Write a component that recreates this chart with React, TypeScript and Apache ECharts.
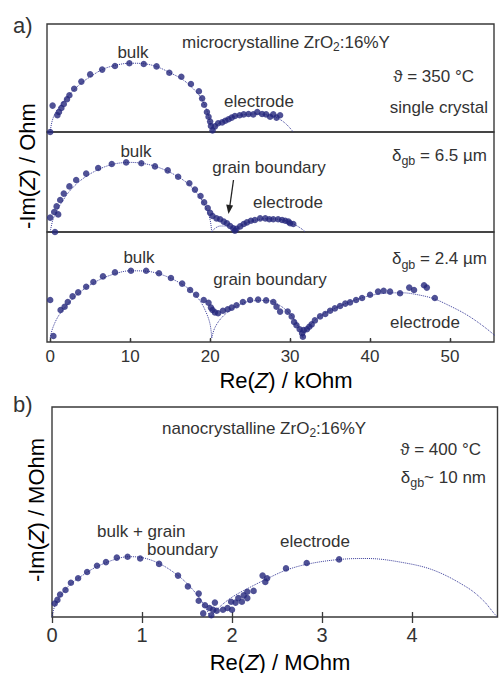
import React, { useEffect, useRef } from "react";
import * as echarts from "echarts";

// ---------- data (kOhm for panel a, MOhm for panel b) ----------
const xTicksA = [0, 10, 20, 30, 40, 50];
const xTicksB = [0, 1, 2, 3, 4];

// single crystal
const scPoints = [
  [0, 0], [0.3, 3.3], [0.9, 2.1], [1.1, 2.5], [1.4, 3.0], [1.7, 3.5], [2.1, 4.1], [2.4, 4.6],
  [3.0, 5.4], [3.9, 6.3], [5.0, 7.2], [6.5, 7.8], [8.1, 8.25], [9.9, 8.6], [11.7, 8.5],
  [13.3, 8.2], [14.9, 7.4], [16.4, 6.9], [17.6, 6.0], [18.6, 5.1], [19.0, 4.2], [19.25, 3.4],
  [19.6, 2.5], [19.8, 1.9], [20.0, 1.3], [20.1, 0.75], [20.3, 0.2], [20.6, 0.7], [21.0, 1.1],
  [21.5, 1.2], [21.9, 1.4], [22.3, 1.6], [22.7, 1.8], [23.1, 2.0], [23.7, 2.1], [24.2, 2.2],
  [24.8, 2.25], [25.4, 2.2], [25.9, 2.5], [26.5, 2.25], [27.0, 2.2], [27.5, 1.9], [27.9, 2.2],
  [28.3, 1.8], [28.75, 2.1],
];
const scBulkFit = [
  [0, 0], [0.2, 1.2], [0.6, 2.3], [1.2, 3.2], [2, 4.2], [3, 5.3], [4, 6.2], [5, 6.9], [6.5, 7.8],
  [8, 8.3], [10, 8.6], [12, 8.5], [13.5, 8.1], [15, 7.4], [16.5, 6.6], [17.7, 5.6], [18.7, 4.5],
  [19.4, 3.2], [19.8, 2.0], [20.1, 0.8], [20.3, 0],
];
const scElectrodeFit = [
  [20.3, 0], [21, 1.0], [22, 1.6], [23, 1.95], [24.5, 2.2], [26, 2.25], [27.5, 2.05],
  [28.5, 1.7], [29.5, 1.0], [30.4, 0],
];

// delta_gb = 6.5 um
const gb65Points = [
  [0, 1.8], [0.5, 2.5], [0.6, 0], [1.0, 2.2], [0.8, 3.2], [1.25, 4.0], [1.7, 4.8], [2.4, 5.7],
  [3.25, 6.5], [4.5, 7.3], [6.0, 8.0], [7.7, 8.5], [9.5, 8.7], [11.4, 8.6], [13.1, 8.2],
  [14.7, 7.7], [16.0, 6.9], [17.4, 6.1], [18.1, 5.3], [18.8, 4.5], [19.25, 3.7], [19.7, 3.0],
  [20.0, 2.4], [20.3, 2.0], [20.8, 1.7], [21.25, 1.6], [21.7, 1.3], [22.1, 1.1], [22.5, 0.75],
  [22.9, 0.45], [23.1, 0.15], [23.3, 0.4], [23.75, 0.7], [24.2, 1.0], [24.6, 1.2], [25.1, 1.4],
  [25.6, 1.5], [26.25, 1.7], [26.9, 1.7], [27.4, 1.6], [27.9, 1.6], [28.5, 1.6], [29.0, 1.5],
  [29.4, 1.4], [29.8, 1.3], [30.0, 1.1], [30.4, 1.0],
];
const gb65BulkFit = [
  [0, 0], [0.3, 1.4], [0.8, 2.6], [1.5, 3.8], [2.5, 5.2], [4, 6.6], [6, 7.8], [8, 8.5],
  [10, 8.7], [12, 8.5], [14, 7.9], [16, 6.9], [17.5, 5.8], [18.7, 4.4], [19.5, 3.0], [20, 1.5],
  [20.2, 0],
];
const gb65GbFit = [[20.2, 0], [20.6, 0.45], [21.3, 0.75], [22.2, 0.75], [22.8, 0.45], [23.1, 0]];
const gb65ElectrodeFit = [
  [23.1, 0], [23.6, 0.6], [24.5, 1.1], [25.5, 1.45], [27, 1.65], [28.5, 1.6], [29.8, 1.3],
  [30.8, 0.8], [31.5, 0.35], [31.9, 0],
];

// delta_gb = 2.4 um
const gb24Points = [
  [0, 4.75], [0.4, 0.25], [1.3, 3.5], [1.8, 3.9], [2.2, 4.5], [2.8, 5.2], [3.5, 5.7], [4.5, 6.4],
  [5.4, 7.0], [6.6, 7.7], [8.1, 8.2], [10.1, 8.4], [12.0, 8.4], [13.6, 8.1], [15.1, 7.5],
  [16.5, 6.8], [17.5, 6.0], [18.25, 5.4], [19.2, 4.75], [19.8, 4.4], [20.1, 3.8], [20.3, 3.5],
  [20.6, 3.2], [21.0, 3.1], [21.6, 3.4], [22.2, 3.6], [22.7, 3.8], [23.3, 4.1], [24.1, 4.5],
  [25.0, 4.75], [26.0, 4.8], [27.0, 4.7], [27.9, 4.5], [28.3, 3.9], [28.75, 3.3], [29.7, 3.3],
  [30.2, 2.7], [30.5, 2.0], [30.8, 1.6], [31.2, 1.1], [31.5, 0.6], [31.6, 0.15], [31.7, 1.0],
  [32.1, 1.1], [32.4, 1.4], [32.7, 1.7], [33.1, 2.2], [33.75, 2.7], [34.4, 3.0], [35.0, 3.4],
  [35.6, 3.7], [36.25, 4.0], [36.9, 4.3], [37.5, 4.45], [38.25, 4.75], [39.0, 5.0], [40.0, 5.4],
  [41.0, 5.8], [41.7, 5.9], [42.5, 5.8], [43.75, 5.6], [44.9, 6.3], [45.5, 6.0], [46.75, 6.6],
  [47.1, 6.3], [48.1, 5.0],
];
const gb24BulkFit = [
  [0, 0], [0.3, 1.2], [1, 2.7], [2, 4.0], [3, 5.1], [4.5, 6.3], [6, 7.2], [8, 8.0], [10, 8.4],
  [12, 8.35], [14, 7.9], [16, 7.0], [17.5, 6.0], [18.7, 4.7], [19.5, 3.2], [20, 1.7], [20.2, 0],
];
const gb24GbFit = [
  [20.2, 0], [20.6, 1.3], [21.5, 2.6], [23, 3.8], [25, 4.6], [27, 4.7], [28.5, 4.2], [30, 3.0],
  [31, 1.5], [31.6, 0],
];
const gb24ElectrodeFit = [
  [31.6, 0], [32.5, 1.6], [34, 2.9], [36, 3.9], [38, 4.7], [40, 5.3], [42, 5.6], [44, 5.65],
  [46, 5.4], [48, 4.9], [50, 4.0], [52, 2.95], [54, 1.6], [55.75, 0.2],
];

// nanocrystalline (MOhm)
const nanoPoints = [
  [0.03, 0.15], [0.06, 0.19], [0.09, 0.25], [0.15, 0.3], [0.21, 0.38], [0.29, 0.43], [0.39, 0.5],
  [0.5, 0.57], [0.6, 0.61], [0.72, 0.66], [0.84, 0.67], [0.98, 0.65], [1.19, 0.59], [1.4, 0.46],
  [1.51, 0.34], [1.63, 0.26], [1.63, 0.18], [1.7, 0.13], [1.75, 0.1], [1.81, 0.16], [1.79, 0.08],
  [1.68, 0.04], [1.77, 0.02], [1.83, 0.07], [1.9, 0.08], [1.95, 0.1], [1.99, 0.17], [2.0, 0.08],
  [2.04, 0.16], [2.07, 0.21], [2.11, 0.17], [2.13, 0.24], [2.17, 0.21], [2.17, 0.28], [2.24, 0.29],
  [2.34, 0.46], [2.37, 0.39], [2.39, 0.43], [2.6, 0.54], [2.83, 0.6], [3.19, 0.64],
];
const nanoBulkFit = [
  [0, 0], [0.03, 0.12], [0.1, 0.24], [0.2, 0.36], [0.35, 0.47], [0.5, 0.56], [0.7, 0.64],
  [0.85, 0.67], [1.0, 0.66], [1.2, 0.59], [1.4, 0.46], [1.55, 0.32], [1.68, 0.15], [1.76, 0],
];
const nanoElectrodeFit = [
  [1.76, 0], [1.85, 0.1], [2.0, 0.22], [2.2, 0.33], [2.4, 0.43], [2.6, 0.52], [2.85, 0.59],
  [3.2, 0.64], [3.5, 0.65], [3.87, 0.61], [4.24, 0.52], [4.61, 0.33], [4.79, 0.185],
  [4.92, 0.03], [4.95, 0],
];

// ---------- styles ----------
const FONT = "'Liberation Sans', Arial, sans-serif";
const BLUE = "#24277c";
const FIT_BLUE = "#3a3d9a";
const TXT = "#333333";
const FRAME = "#3a3a3a";
const FS = 17;

export default function App() {
  const ref = useRef<HTMLDivElement>(null);

  useEffect(() => {
    document.body.style.margin = "0";
    if (!ref.current) return;
    const chart = echarts.init(ref.current, undefined, { renderer: "svg" });

    const gridBase = { show: true, borderColor: FRAME, borderWidth: 1.4, backgroundColor: "transparent" };
    const hiddenX = (min: number, max: number, gridIndex: number) => ({
      type: "value", gridIndex, min, max, show: false,
    });

    const scatter = (data: number[][], idx: number) => ({
      type: "scatter", data, xAxisIndex: idx === 3 ? 4 : idx, yAxisIndex: idx,
      symbolSize: 6.5, itemStyle: { color: BLUE }, clip: false, z: 3,
    });
    const fit = (data: number[][], idx: number) => ({
      type: "line", data, xAxisIndex: idx === 3 ? 4 : idx, yAxisIndex: idx,
      smooth: 0.35, showSymbol: false, symbol: "none", clip: false,
      lineStyle: { color: FIT_BLUE, width: 1, type: "dotted" }, z: 2,
    });

    const txt = (text: string, x: number, y: number, align: string, extra: any = {}) => ({
      type: "text", x, y, z: 10,
      style: {
        text, fill: TXT, font: `${FS}px ${FONT}`, textAlign: align, textVerticalAlign: "middle",
        ...extra,
      },
    });
    const richBase = {
      n: { fontSize: FS, fontFamily: FONT, color: TXT, lineHeight: 21 },
      s: { fontSize: 12, fontFamily: FONT, color: TXT, lineHeight: 12, verticalAlign: "bottom" },
    };
    const richDelta = {
      n: { fontSize: FS, fontFamily: FONT, color: TXT, lineHeight: 25 },
      s: { fontSize: 12.5, fontFamily: FONT, color: TXT, lineHeight: 12.5, verticalAlign: "bottom" },
    };
    const richAxis = {
      n: { fontSize: 22, fontFamily: FONT, color: TXT },
      i: { fontSize: 22, fontFamily: FONT, color: TXT, fontStyle: "italic" },
    };

    const option: any = {
      animation: false,
      grid: [
        { ...gridBase, left: 47, top: 24, width: 447, height: 108 },
        { ...gridBase, left: 47, top: 132, width: 447, height: 100 },
        { ...gridBase, left: 47, top: 232, width: 447, height: 110 },
        { ...gridBase, left: 52, top: 407, width: 445.5, height: 210 },
      ],
      xAxis: [
        hiddenX(-0.4, 55.5, 0),
        hiddenX(-0.4, 55.5, 1),
        {
          type: "value", gridIndex: 2, min: -0.4, max: 55.5,
          axisLine: { show: false }, splitLine: { show: false },
          axisTick: { show: true, length: 4, customValues: xTicksA, lineStyle: { color: FRAME, width: 1.3 } },
          axisLabel: { show: true, customValues: xTicksA, margin: 6, color: TXT, fontSize: 17, fontFamily: FONT },
        },
        {
          type: "value", gridIndex: 2, min: -0.4, max: 55.5, position: "bottom",
          axisLine: { show: false }, splitLine: { show: false }, axisLabel: { show: false },
          axisTick: { show: true, inside: true, length: 3, customValues: xTicksA, lineStyle: { color: FRAME, width: 1.3 } },
        },
        {
          type: "value", gridIndex: 3, min: 0, max: 4.95, interval: 1,
          axisLine: { show: false }, splitLine: { show: false },
          axisTick: { show: true, length: 6, customValues: xTicksB, lineStyle: { color: FRAME, width: 1.3 } },
          axisLabel: { show: true, customValues: xTicksB, margin: 8, color: TXT, fontSize: 20, fontFamily: FONT },
        },
        {
          type: "value", gridIndex: 3, min: 0, max: 4.95, interval: 1, position: "bottom",
          axisLine: { show: false }, splitLine: { show: false }, axisLabel: { show: false },
          axisTick: { show: true, inside: true, length: 5, customValues: xTicksB, lineStyle: { color: FRAME, width: 1.3 } },
        },
      ],
      yAxis: [
        { type: "value", gridIndex: 0, min: 0, max: 13.5, show: false },
        { type: "value", gridIndex: 1, min: 0, max: 12.5, show: false },
        { type: "value", gridIndex: 2, min: -0.5, max: 13.25, show: false },
        { type: "value", gridIndex: 3, min: 0, max: 2.3333, show: false },
      ],
      series: [
        fit(scBulkFit, 0), fit(scElectrodeFit, 0), scatter(scPoints, 0),
        fit(gb65BulkFit, 1), fit(gb65GbFit, 1), fit(gb65ElectrodeFit, 1), scatter(gb65Points, 1),
        fit(gb24BulkFit, 2), fit(gb24GbFit, 2), fit(gb24ElectrodeFit, 2), scatter(gb24Points, 2),
        fit(nanoBulkFit, 3), fit(nanoElectrodeFit, 3), scatter(nanoPoints, 3),
      ],
      graphic: [
        txt("a)", 13, 25, "left", { font: `22px ${FONT}` }),
        txt("b)", 13, 404, "left", { font: `22px ${FONT}` }),
        // panel a axis titles
        {
          type: "text", x: 27, y: 166, rotation: Math.PI / 2, z: 10,
          style: { text: "{n|-Im(}{i|Z}{n|) / Ohm}", rich: richAxis, textAlign: "center", textVerticalAlign: "middle" },
        },
        {
          type: "text", x: 286, y: 380, z: 10,
          style: { text: "{n|Re(}{i|Z}{n|) / kOhm}", rich: richAxis, textAlign: "center", textVerticalAlign: "middle" },
        },
        // panel b axis titles
        {
          type: "text", x: 36, y: 510, rotation: Math.PI / 2, z: 10,
          style: { text: "{n|-Im(}{i|Z}{n|) / MOhm}", rich: richAxis, textAlign: "center", textVerticalAlign: "middle" },
        },
        {
          type: "text", x: 280, y: 662, z: 10,
          style: { text: "{n|Re(}{i|Z}{n|) / MOhm}", rich: richAxis, textAlign: "center", textVerticalAlign: "middle" },
        },
        // panel 1
        txt("bulk", 133, 52, "center"),
        txt("{n|microcrystalline ZrO}{s|2}{n|:16%Y}", 182, 42, "left", { rich: richBase }),
        txt("\u03D1 = 350 \u00B0C", 474, 76, "right"),
        txt("single crystal", 488, 107, "right"),
        txt("electrode", 259, 101, "center"),
        // panel 2
        txt("bulk", 136, 151, "center"),
        txt("grain boundary", 269, 167, "center"),
        txt("electrode", 288, 202.5, "center"),
        txt("{n|\u03B4}{s|gb}{n| = 6.5 \u00B5m}", 487, 155, "right", { rich: richDelta }),
        {
          type: "line", z: 10,
          shape: { x1: 233.5, y1: 180, x2: 229.7, y2: 207 },
          style: { stroke: "#222", lineWidth: 1.3 },
        },
        {
          type: "polygon", z: 10,
          shape: { points: [[228.5, 214], [233.1, 205.6], [226.2, 204.6]] },
          style: { fill: "#222" },
        },
        // panel 3
        txt("bulk", 139, 257.5, "center"),
        txt("grain boundary", 270, 279, "center"),
        txt("electrode", 425, 322.5, "center"),
        txt("{n|\u03B4}{s|gb}{n| = 2.4 \u00B5m}", 487, 258.5, "right", { rich: richDelta }),
        // panel b
        txt("{n|nanocrystalline ZrO}{s|2}{n|:16%Y}", 162, 428, "left", { rich: richBase }),
        txt("\u03D1 = 400 \u00B0C", 481, 449, "right"),
        txt("{n|\u03B4}{s|gb}{n|~ 10 nm}", 486, 477, "right", { rich: richDelta }),
        txt("bulk + grain", 97, 531, "left"),
        txt("boundary", 147, 549, "left"),
        txt("electrode", 315, 541, "center"),
      ],
    };

    chart.setOption(option);
    return () => chart.dispose();
  }, []);

  return <div ref={ref} style={{ width: 499, height: 673 }} />;
}
